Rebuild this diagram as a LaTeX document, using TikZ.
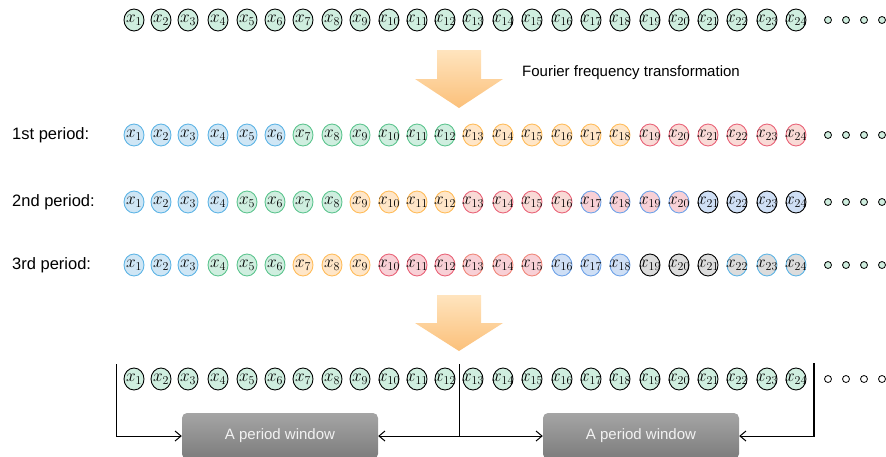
\documentclass[tikz,border=0pt]{standalone}
\usepackage{fontspec}
\setmainfont{Liberation Sans}
\usetikzlibrary{shapes.geometric,arrows.meta}
\definecolor{blueB}{HTML}{5DB4E5}
\definecolor{blueF}{HTML}{CFE6F5}
\definecolor{greenB}{HTML}{5CC48E}
\definecolor{greenF}{HTML}{CFEEDF}
\definecolor{orangeB}{HTML}{FFBC5A}
\definecolor{orangeF}{HTML}{FFE6C8}
\definecolor{redB}{HTML}{E96378}
\definecolor{redF}{HTML}{F9DAD6}
\definecolor{pinkF}{HTML}{F8D0D6}
\definecolor{salmonB}{HTML}{F0877A}
\definecolor{blueTB}{HTML}{6FA3E8}
\definecolor{blueTF}{HTML}{CFDFF5}
\definecolor{grayF}{HTML}{DCDCDC}
\definecolor{arrTop}{HTML}{FFE4BE}
\definecolor{arrBot}{HTML}{FBC07A}
\definecolor{boxTop}{HTML}{A5A5A5}
\definecolor{boxBot}{HTML}{7C7C7C}
\begin{document}
\begin{tikzpicture}[x=1pt,y=-1pt,
  cell/.style={ellipse, minimum width=20pt, minimum height=22pt, inner sep=0pt,
    line width=0.9pt, font=\fontsize{17}{17}\selectfont},
  tp/.style={draw=black, fill=greenF},
  bl/.style={draw=blueB, fill=blueF},
  gr/.style={draw=greenB, fill=greenF},
  or/.style={draw=orangeB, fill=orangeF},
  rd/.style={draw=redB, fill=redF},
  bp/.style={draw=blueTB, fill=pinkF},
  kb/.style={draw=black, fill=blueTF},
  rp/.style={draw=redB, fill=pinkF},
  sp/.style={draw=salmonB, fill=pinkF},
  bb/.style={draw=blueTB, fill=blueTF},
  kg/.style={draw=black, fill=grayF},
  lg/.style={draw=blueB, fill=grayF},
  dot/.style={circle, minimum size=7pt, inner sep=0pt, draw=black, line width=0.8pt, fill=greenF},
  lbl/.style={anchor=west, inner sep=0pt, font=\fontsize{16.5}{18}\selectfont},
  win/.style={rectangle, rounded corners=5pt, minimum width=196pt, minimum height=46pt,
    top color=boxTop, bottom color=boxBot, text=white!95!black, font=\fontsize{15}{16}\selectfont},
  conn/.style={line width=1pt, -{Straight Barb[length=6pt,width=10pt]}}
]
\clip (0,0) rectangle (886,456);
\def\xs{{134,161,188,218,247,275,303,332,360,389,417,445,473,503,532,562,591,620,650,679,708,737,767,796}}

% top and bottom rows
\foreach \i in {1,...,24}{
  \pgfmathsetmacro\xx{\xs[\i-1]}
  \node[cell,tp] (t\i) at (\xx,20) {\makebox[0pt]{$x_{\i}$}};
  \node[cell,tp] (d\i) at (\xx,379) {\makebox[0pt]{$x_{\i}$}};
}
% row 1
\foreach \i/\s in {1/bl,2/bl,3/bl,4/bl,5/bl,6/bl,7/gr,8/gr,9/gr,10/gr,11/gr,12/gr,
  13/or,14/or,15/or,16/or,17/or,18/or,19/rd,20/rd,21/rd,22/rd,23/rd,24/rd}{
  \pgfmathsetmacro\xx{\xs[\i-1]}
  \node[cell,\s] (a\i) at (\xx,135) {\makebox[0pt]{$x_{\i}$}};
}
% row 2
\foreach \i/\s in {1/bl,2/bl,3/bl,4/bl,5/gr,6/gr,7/gr,8/gr,9/or,10/or,11/or,12/or,
  13/rd,14/rd,15/rd,16/rd,17/bp,18/bp,19/bp,20/bp,21/kb,22/kb,23/kb,24/kb}{
  \pgfmathsetmacro\xx{\xs[\i-1]}
  \node[cell,\s] (b\i) at (\xx,202) {\makebox[0pt]{$x_{\i}$}};
}
% row 3
\foreach \i/\s in {1/bl,2/bl,3/bl,4/gr,5/gr,6/gr,7/or,8/or,9/or,10/rp,11/rp,12/rp,
  13/sp,14/sp,15/sp,16/bb,17/bb,18/bb,19/kg,20/kg,21/kg,22/lg,23/lg,24/lg}{
  \pgfmathsetmacro\xx{\xs[\i-1]}
  \node[cell,\s] (c\i) at (\xx,265) {\makebox[0pt]{$x_{\i}$}};
}
% dots
\foreach \x [count=\k] in {828,846,864,882}{
  \node[dot] (tdot\k) at (\x,20) {};
  \node[dot] (adot\k) at (\x,135) {};
  \node[dot] (bdot\k) at (\x,202) {};
  \node[dot] (cdot\k) at (\x,265) {};
  \node[dot,fill=white] (ddot\k) at (\x,379) {};
}
% labels
\node[lbl] (l1) at (12,135) {1st period:};
\node[lbl] (l2) at (12,202) {2nd period:};
\node[lbl] (l3) at (12,265) {3rd period:};
\node[anchor=west, inner sep=0pt, font=\fontsize{15}{16}\selectfont] (ft) at (522,73) {Fourier frequency transformation};

% orange arrows
\shade[top color=arrTop, bottom color=arrBot]
  (437,50) -- (481,50) -- (481,79) -- (503,79) -- (459,108) -- (415,79) -- (437,79) -- cycle;
\shade[top color=arrTop, bottom color=arrBot]
  (437,295) -- (481,295) -- (481,323) -- (503,323) -- (459,351) -- (415,323) -- (437,323) -- cycle;

% windows
\node[win] (w1) at (280,436) {A period window};
\node[win] (w2) at (641,436) {A period window};

\coordinate (L) at (116,364);
\coordinate (M) at (459,364);
\coordinate (R) at (814,363);
\coordinate (Mb) at (459,436);
\draw[conn] (L) |- (w1.west);
\draw[line width=1pt] (M) -- (Mb);
\draw[conn] (Mb) -- (w1.east);
\draw[conn] (Mb) -- (w2.west);
\draw[conn] (R) |- (w2.east);
\draw[line width=1.8pt] (R) -- (R|-w2.east);
\end{tikzpicture}
\end{document}
